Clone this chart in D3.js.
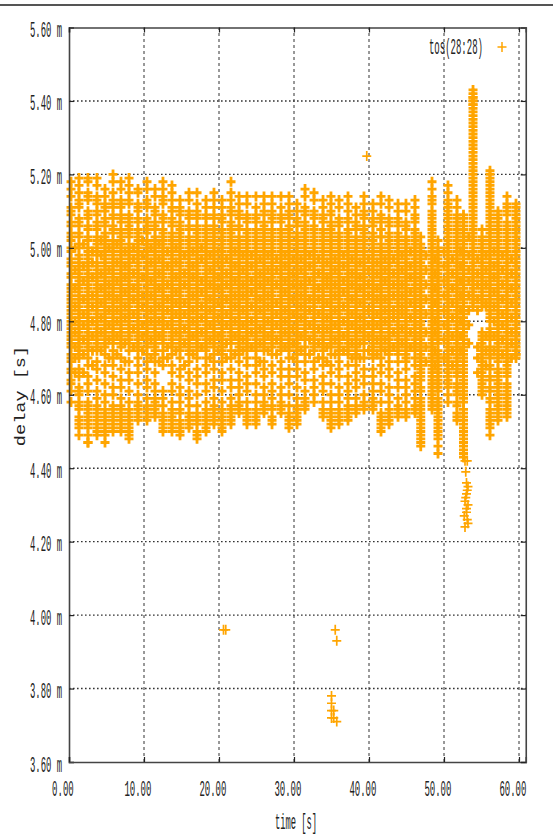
<!DOCTYPE html>
<html>
<head>
<meta charset="utf-8">
<script src="https://cdn.jsdelivr.net/npm/d3@7"></script>
<style>
  body { margin: 0; background: #fff; }
  text { font-family: "Liberation Mono", "DejaVu Sans Mono", monospace; fill: #222; }
</style>
</head>
<body>
<script>
const m = { width: 553, height: 835, left: 69, right: 525.75, top: 27.5, bottom: 762 }

const xTicks = [0, 10, 20, 30, 40, 50, 60]
const yTicks = [3.6, 3.8, 4.0, 4.2, 4.4, 4.6, 4.8, 5.0, 5.2, 5.4, 5.6]

// one stack of samples per burst, delays in 0.01 ms
const columnTimes = [0.27,1.33,2.53,3.73,4.8,5.87,6.93,8.0,9.2,10.4,11.47,12.53,13.73,14.8,16,17.07,18.27,19.33,20.4,21.6,22.67,23.73,24.93,26,27.07,28.27,29.33,30.4,31.47,32.67,33.87,34.93,36,37.2,38.27,39.33,40.53,41.6,42.67,43.87,44.93,46.13,46.9,48.4,49.2,50.53,51.73,52.6,53.87,55.07,56.13,57.2,58.4,59.6]
const columnDelays = [
  [518,516,514,511,509,507,504,502,499,497,495,493,490,488,486,485,483,481,479,478,476,474,471,469,466,463,461,458],
  [519,517,515,513,511,508,506,503,501,498,496,494,492,491,489,487,485,483,482,480,478,476,474,472,470,467,465,462,460,458,456,454,452,449],
  [519,518,515,513,510,508,505,503,500,498,497,495,493,491,490,488,486,484,481,480,477,475,473,470,468,465,463,461,458,456,455,453,451,447,447],
  [519,517,514,512,510,507,505,502,500,499,496,494,492,490,488,487,485,483,481,479,477,474,472,469,467,464,461,459,457,455,453,451,449],
  [516,514,512,510,508,506,503,501,499,497,495,493,492,490,488,486,484,482,480,478,476,473,471,468,466,463,460,458,456,454,452,450,447],
  [520,518,515,513,511,509,506,504,501,499,497,494,493,491,489,487,485,484,482,479,478,475,472,470,468,465,462,460,457,456,454,452,450],
  [518,516,513,511,509,507,504,502,500,498,496,495,493,491,489,487,486,484,481,479,477,475,473,470,467,464,462,459,457,455,453,451,450],
  [519,517,515,512,509,507,505,503,500,497,495,494,492,490,488,486,485,483,481,480,477,474,472,469,466,464,461,458,456,454,452,450,448],
  [516,515,512,510,508,505,503,501,499,497,496,494,492,491,489,487,485,483,481,479,477,475,472,470,468,466,463,460,458,457,455,453],
  [518,516,513,511,508,506,504,501,499,498,495,493,491,489,488,486,484,482,480,479,476,474,471,469,467,464,462,459,457,455,453],
  [516,514,511,509,507,505,502,500,498,497,495,493,491,490,488,486,484,482,481,478,476,473,471,469,466,463,461,459,458,456,454],
  [518,516,514,512,509,507,504,502,500,498,496,494,492,490,488,487,485,483,482,480,477,475,472,470,468,461,459,457,455,453,452,450],
  [517,515,513,510,508,506,503,501,499,497,495,494,492,490,489,487,485,483,480,478,476,473,471,468,466,463,461,458,456,454,452,450],
  [513,511,509,507,505,503,501,499,497,496,494,492,490,488,486,485,483,481,479,477,475,472,470,467,465,462,460,458,456,453,451,449],
  [515,513,510,508,506,503,501,499,498,495,493,491,489,488,486,484,482,480,478,476,474,472,469,466,464,461,459,457,455,453,451],
  [515,512,510,508,506,504,502,499,497,495,494,492,490,488,487,485,483,481,479,477,474,472,470,467,465,463,460,457,455,453,450,448],
  [513,511,509,506,504,502,500,498,496,494,492,491,489,487,485,483,482,480,478,475,473,470,468,466,463,461,458,456,454,452,450],
  [515,513,511,508,506,504,501,499,497,495,493,491,490,488,486,484,482,481,479,477,474,471,469,467,464,462,459,457,456,454,452],
  [513,511,509,507,505,503,500,498,496,494,493,491,489,487,485,484,482,480,478,476,473,471,469,466,464,461,458,456,454,452,450],
  [518,515,513,511,509,506,504,502,500,497,495,494,492,490,488,486,485,483,480,478,476,474,472,470,467,464,462,459,457,455,454,452],
  [514,512,510,508,506,503,501,499,497,495,493,491,489,488,486,484,482,480,478,476,474,471,469,466,464,462,460,458,457,455],
  [514,512,509,507,505,503,501,498,496,495,493,491,489,487,486,484,482,480,477,475,473,470,468,465,463,461,458,456,454,452],
  [514,511,509,507,505,502,500,498,496,494,492,490,489,487,485,483,481,479,477,475,472,470,468,466,463,460,458,456,454,452],
  [514,512,510,507,505,503,501,499,497,495,493,492,490,488,486,484,483,481,478,476,474,472,469,467,465,462,460,458,457,455],
  [514,512,510,508,505,503,501,498,497,494,492,491,489,487,485,483,481,479,477,475,473,471,468,466,463,461,459,457,454,452],
  [514,511,509,507,504,502,500,498,495,493,491,490,488,486,484,482,480,479,476,474,472,469,467,465,462,460,458,457,455],
  [514,512,510,508,506,504,501,499,497,495,493,492,490,488,486,485,483,481,478,476,474,472,470,467,465,463,460,457,454,452,451],
  [512,510,508,506,504,502,500,498,496,494,492,491,489,487,485,483,481,479,477,475,472,469,467,465,462,459,457,455,454,452],
  [516,514,511,509,506,504,502,499,497,495,493,491,489,488,486,484,482,480,478,476,473,471,469,466,464,461,459,457,456],
  [515,513,510,508,506,504,501,499,497,495,494,492,490,488,486,484,482,481,479,476,474,472,469,467,464,462,460,458],
  [513,511,509,507,505,502,500,498,496,494,492,491,489,487,485,483,481,479,477,474,472,470,468,465,463,461,458,456,454],
  [514,512,510,507,505,503,501,499,497,495,493,491,489,487,486,484,482,480,478,475,473,471,468,466,463,460,458,456,453,452,451],
  [513,511,508,506,504,502,500,498,496,494,492,490,488,486,485,483,481,479,476,474,472,469,467,465,462,460,458,456,454,452],
  [514,512,510,507,505,503,500,498,497,495,493,491,489,487,485,483,481,479,477,475,473,471,468,465,463,461,459,457,455,453],
  [511,509,507,505,503,501,499,497,495,493,491,489,488,486,484,482,480,478,475,473,471,468,466,464,462,459,457,455],
  [514,512,510,508,505,503,501,499,497,494,492,490,489,487,485,483,481,479,477,475,472,470,467,465,463,460,458,456],
  [512,510,508,506,504,502,500,498,496,494,492,491,489,487,485,483,481,479,476,474,472,470,467,465,463,461,459,457,456],
  [514,512,509,507,505,503,500,498,496,495,493,491,489,487,485,484,482,480,477,475,473,470,468,466,463,461,458,455,453,452,450],
  [513,511,508,506,504,502,500,497,495,494,492,490,488,486,484,482,480,478,476,474,472,469,467,465,462,460,458,456,454,452],
  [512,510,508,506,503,501,499,497,495,493,491,489,488,486,484,482,480,478,476,473,471,469,466,464,462,459,457,456,454],
  [512,510,507,505,503,501,499,497,495,493,491,490,488,486,484,482,480,479,476,473,471,469,467,464,462,460,458,456,454],
  [513,511,509,507,505,503,500,498,496,494,492,490,488,487,485,483,481,479,476,474,472,470,468,465,463,461,459,457,455],
  [503,501,499,497,495,493,491,489,488,486,484,482,480,478,476,474,471,469,467,465,462,459,457,456,455,454,453,452,451,450,449,448,447,446],
  [518,516,514,512,510,508,506,504,502,500,498,496,494,492,490,488,486,484,482,480,478,476,474,472,470,468,466,464,462,460,458,456],
  [502,500,499,497,495,493,491,489,487,485,483,481,479,477,475,472,470,467,465,462,459,456,455,454,453,452,451,450,449,448,446,444],
  [517,515,513,511,509,507,505,503,501,499,497,495,492,490,488,486,484,482,480,478,476,474,472,470,468,466,464,462,460,458],
  [513,511,509,507,505,503,500,498,496,494,492,490,488,486,484,482,480,478,476,474,472,470,468,466,463,461,458,455,453],
  [509,507,505,503,501,499,497,495,493,491,489,487,485,483,481,479,477,475,473,471,469,467,465,463,461,459,456,454,452,450,448,446,445,443],
  [543,542,541,540,539,538,536,534,532,530,528,526,524,522,520,518,516,514,512,510,508,506,504,502,500,498,496,494,492,490,488,486,484],
  [505,502,500,498,496,494,492,490,488,486,484,476,474,472,470,468,466,464,462,460],
  [521,519,517,515,513,511,509,507,505,503,501,499,497,495,493,491,489,487,485,483,481,478,476,473,471,468,465,462,459,456,454,452,449],
  [510,508,506,504,502,500,498,496,494,492,490,488,486,484,482,480,478,476,474,472,470,467,465,463,461,459,457,455,453],
  [514,512,510,507,505,503,500,498,496,494,492,490,488,486,484,482,480,478,476,474,472,470,468,466,463,461,459,457,455,454],
  [512,510,508,506,504,502,500,498,496,494,492,490,488,486,484,482,480,478,476,474,472,471,470]
]

// more samples in the same stacks, same order as columnTimes
const denseDelays = [
  [510,506,503,500,496,492,489,487,484,482,480,477,475,473,470,467,464],
  [512,507,504,500,497,495,493,490,488,486,484,481,479,477,475,473,471,461,457,453,451],
  [514,509,506,502,499,496,494,492,489,487,485,483,482,479,478,476,474,472,457,454,452,449],
  [513,509,506,503,501,498,495,493,491,489,486,484,482,480,478,476,475,473,456,454,452,450],
  [511,507,504,502,500,498,496,494,491,489,487,485,483,481,479,477,475,474,455,453,451,449],
  [512,508,505,502,500,498,496,495,492,490,488,486,483,481,480,477,476,474,455,453,451],
  [512,508,505,503,501,499,497,494,492,490,488,485,483,482,480,478,476,474,456,454,452],
  [513,508,506,504,501,499,498,496,493,491,489,487,484,482,479,478,476,475,455,453,451,449],
  [511,507,504,502,500,498,495,493,490,488,486,484,482,480,478,476,474,473,456,454],
  [512,507,505,502,500,497,496,494,492,490,487,485,483,481,478,477,475,473,456,454],
  [510,506,503,501,499,496,494,492,489,487,485,483,480,479,477,475,474,472,457,455],
  [513,508,505,503,501,499,497,495,493,491,489,486,484,481,479,478,476,474,454,451],
  [511,507,504,502,500,498,496,493,491,488,486,484,482,481,479,477,475,474,455,453,451],
  [510,506,504,502,500,498,495,493,491,489,487,484,482,480,478,476,474,473,455,452,450],
  [509,505,502,500,497,496,494,492,490,487,485,483,481,479,477,475,473,471,454,452],
  [509,505,503,501,500,498,496,493,491,489,486,484,482,480,478,476,475,473,454,452,449],
  [508,505,503,501,499,497,495,493,490,488,486,484,481,479,477,476,474,472,455,453,451],
  [509,505,503,502,500,498,496,494,492,489,487,485,483,480,478,476,475,473,455,453],
  [508,504,502,501,499,497,495,492,490,488,486,483,481,479,477,475,474,472,455,453,451],
  [510,507,505,503,501,499,498,496,493,491,489,487,484,482,481,479,477,475,456,453],
  [509,505,502,500,498,496,494,492,490,487,485,483,481,479,477,475,473,472,456],
  [508,504,502,500,499,497,494,492,490,488,485,483,481,479,478,476,474,472,455,453],
  [508,504,503,501,499,497,495,493,491,488,486,484,482,480,478,476,474,473,455,453],
  [509,506,504,502,500,498,496,494,491,489,487,485,482,480,479,477,475,473,456],
  [509,507,504,502,500,499,496,495,493,490,488,486,484,482,480,478,476,474,456,453],
  [508,505,503,501,499,497,496,494,492,489,487,485,483,481,478,477,475,473,456],
  [509,505,503,502,500,498,496,494,491,489,487,484,482,480,479,477,475,473,455,453],
  [507,503,501,499,497,495,493,490,488,486,484,482,480,478,476,474,473,471,456,453],
  [510,507,505,503,501,500,498,496,494,492,490,487,485,483,481,479,477,475,458],
  [509,505,503,502,500,498,496,493,491,489,487,485,483,480,478,477,475,473],
  [508,504,503,501,499,497,495,493,490,488,486,484,482,480,478,476,475,473,455],
  [509,506,504,502,500,498,496,494,492,490,488,485,483,481,479,477,476,474,455,454],
  [507,503,501,499,497,495,493,491,489,487,484,482,480,478,477,475,473,471,455,453],
  [508,504,502,501,499,496,494,492,490,488,486,484,482,480,478,476,474,472,456,454],
  [506,502,500,498,496,494,492,490,487,485,483,481,479,477,476,474,472,470,456],
  [509,506,504,502,500,498,496,495,493,491,488,486,484,482,480,478,476,474,457],
  [507,503,501,499,497,495,493,490,488,486,484,482,480,478,477,475,473,471,458],
  [508,505,503,501,499,497,494,492,490,488,486,483,481,479,478,476,474,472,454,451],
  [507,503,501,499,498,496,493,491,489,487,485,483,481,479,477,475,473,471,455,453],
  [507,504,502,500,498,496,494,492,490,487,485,483,481,479,477,475,474,472,455],
  [506,502,500,498,496,494,492,489,487,485,483,481,478,477,475,474,472,470,455],
  [508,504,502,501,499,497,495,493,491,489,486,484,482,480,478,477,475,473,456],
  [500,498,496,494,492,490,487,485,483,481,479,477,475,473,472,470,468,466,464,461,458],
  [513,509,507,505,503,501,499,497,495,493,491,489,487,485,483,481,479,477,475,473,471,469,467,465,463,461,459,457],
  [498,496,494,492,490,488,486,484,482,480,478,476,474,471,469,468,466,464,463,461,458,457],
  [512,510,508,506,504,502,500,498,496,494,493,491,489,487,485,483,481,479,477,475,473,471,469,467,465,463],
  [508,506,504,502,501,499,497,495,493,491,489,487,485,483,481,479,477,475,473,471,469,467,465,462,460,457,454],
  [508,506,504,502,500,498,496,494,492,490,488,486,484,482,480,478,476,474,472,470,468,466,464,462,460,458,455,453,451,449,447,444],
  [541,540,539,537,535,533,531,529,527,525,523,521,519,517,515,513,511,509,507,505,503,501,499,497,495,493,491,489,487,485],
  [503,501,499,497,495,493,491,489,487,485,477,475,473,471,469,467,465,463,461],
  [520,518,516,514,512,510,508,506,504,502,500,498,496,494,492,490,488,486,484,482,480,477,475,472,470,467,464,461,458,455,453,451],
  [509,507,505,503,501,499,497,495,493,491,489,487,485,483,481,479,477,475,473,471,469,466,464,462,460,458,456,454],
  [511,509,506,504,502,501,499,497,495,493,491,489,487,485,483,481,479,477,475,473,471,469,467,465,462,460,458,456],
  [511,509,507,505,503,501,499,497,495,493,491,489,487,485,483,481,479,477,475,473,471]
]

// samples lying between the stacks, they fill the dense core of the cloud
const fillTimes = [0.8,1.93,3.13,4.27,5.33,6.4,7.47,8.6,9.8,10.93,12,13.13,14.27,15.4,16.53,17.67,18.8,19.87,21,22.13,23.2,24.33,25.47,26.53,27.67,28.8,29.87,30.93,32.07,33.27,34.4,35.47,36.6,37.73,38.8,39.93,41.07,42.13,43.27,44.4,45.53,47.6,48.8,50,51.13,52.2,53.3,54.47,55.6,56.67,57.8,59]
const fillDelays = [
  [500,494,489,484,480,477,473,470,466],[501,495,491,486,482,479,475,471,466],[499,496,492,487,484,480,476,472,468],
  [502,498,493,489,485,481,477,472],[500,494,490,487,483,479,475,470],[501,496,491,486,483,480,476,471],
  [499,495,492,488,484,481,474,469],[500,497,493,489,486,482,478,473],[502,498,492,487,484,479,476,472],
  [500,496,491,487,483,480,475,470],[501,497,493,489,484,480,476,469],[499,495,490,486,483,479,473,470],
  [500,496,492,488,485,482,477,472],[498,493,490,485,482,478,474,468],[499,495,492,487,483,480,476,471],
  [500,497,491,488,484,481,477,473],[498,494,490,486,483,479,475,470],[499,496,492,489,485,481,476,472],
  [497,493,490,486,482,479,474,470],[499,495,491,487,484,480,476,471],[498,494,490,487,483,479,475,472],
  [498,495,491,488,484,480,477,473],[497,493,490,486,483,478,474,469],[498,494,491,487,484,480,476,472],
  [497,494,490,485,482,479,475,471],[498,495,491,488,483,480,477,473],[497,493,490,486,482,478,474,470],
  [497,494,490,487,484,481,476,472],[498,495,491,486,483,479,475,471],[497,493,489,486,482,478,474,470],
  [496,492,490,485,481,478,473,469],[497,494,490,487,483,479,475,471],[498,495,491,488,484,480,476,472],
  [497,493,490,486,482,479,474,470],[496,492,489,485,481,478,474,470],[497,494,490,487,483,479,476,472],
  [496,493,489,486,482,479,475,471],[497,494,491,486,483,480,475,472],[497,493,490,487,483,481,477,473],
  [498,494,490,487,484,482,478,474],[499,495,492,488,485,481,477,473],[498,494,490,486,482,477,473,469],
  [497,493,489,485,480,477,472,468],[499,495,491,487,483,479,475,470],[497,493,489,485,481,476,472,468],
  [499,495,491,487,483,480,476,472],[503,498,494,491,487,483,479,474],[497,493,490,486,483,473,470,466],
  [498,494,490,485,484,476,472,468],[499,495,492,488,484,480,476,472],[498,494,490,486,482,479,475,471],
  [497,493,489,485,481,477,474,470]
]

// the few samples away from the cloud: seconds, 0.01 ms
const strayTimes = [20.6,20.9,35.5,35.7,35.0,35.0,35.0,35.3,35.0,35.3,35.7,39.7,52.9,53.0,53.2,52.8,52.6,53.1,52.9,53.0,53.1,52.8,53.2,53.0,52.7,53.1,52.8,53.0,53.2]
const strayDelays = [396,396,396,393,378,376,374,374,372,372,371,525,432,429,425,442,443,442,439,436,434,431,430,428,427,426,424,433,435]

const legendLabel = 'tos(28:28)'
const crossPath = 'M-4.5 0H4.5M0-5V5'
const markColor = '#ffa500'

const svg = d3.select('body').append('svg')
    .attr('width', m.width)
    .attr('height', m.height)
    .style('display', 'block')

const x = d3.scaleLinear().domain([0, 60.9]).range([m.left, m.right])
const y = d3.scaleLinear().domain([3.6, 5.6]).range([m.bottom, m.top])

svg.append('rect').attr('x', 0).attr('y', 4).attr('width', m.width).attr('height', 2).attr('fill', '#555')

// grid first, the samples go on top of it
const grid = svg.append('g').attr('stroke', '#333').attr('stroke-width', 1)
grid.selectAll('.gx').data(xTicks.slice(1)).enter().append('line')
    .attr('x1', d => x(d)).attr('x2', d => x(d))
    .attr('y1', m.bottom).attr('y2', m.top)
    .attr('stroke-dasharray', '3 3')
grid.selectAll('.gy').data(yTicks.slice(1, -1)).enter().append('line')
    .attr('x1', m.left).attr('x2', m.right)
    .attr('y1', d => y(d)).attr('y2', d => y(d))
    .attr('stroke-width', 1.4)
    .attr('stroke-dasharray', '1.6 2.4')

const points = []
columnTimes.forEach((t, i) => columnDelays[i].forEach(d => points.push([t, d])))
columnTimes.forEach((t, i) => (denseDelays[i] || []).forEach(d => points.push([t, d])))
fillTimes.forEach((t, i) => fillDelays[i].forEach(d => points.push([t, d])))

const strays = strayTimes.map((t, i) => [t, strayDelays[i]])

function drawMarks(data, width) {
    svg.append('g').selectAll('path')
        .data(data)
        .enter()
        .append('path')
            .attr('d', crossPath)
            .attr('transform', d => `translate(${x(d[0])},${y(d[1] / 100)})`)
            .attr('fill', 'none')
            .attr('stroke', markColor)
            .attr('stroke-width', width)
}
drawMarks(points, 2.8)
drawMarks(strays, 1.7)

// frame and the short inside ticks
const left = svg.append('g').attr('transform', `translate(${m.left},0)`)
    .call(d3.axisLeft(y).tickValues(yTicks).tickSize(-5).tickFormat(d => d3.format('.2f')(d) + ' m'))
const bottom = svg.append('g').attr('transform', `translate(0,${m.bottom})`)
    .call(d3.axisBottom(x).tickValues(xTicks).tickSize(-5).tickFormat(d3.format('.2f')))
svg.append('g').attr('transform', `translate(${m.right},0)`)
    .call(d3.axisRight(y).tickValues(yTicks).tickSize(-5).tickFormat(''))
svg.append('g').attr('transform', `translate(0,${m.top})`)
    .call(d3.axisTop(x).tickValues(xTicks).tickSize(-5).tickFormat(''))

svg.selectAll('.domain').attr('stroke', '#444').attr('stroke-width', 1.6)
svg.selectAll('.tick line').attr('stroke', '#222').attr('stroke-width', 1.2)

// the picture is a stretched screenshot, so the text is tall and narrow
left.selectAll('text')
    .attr('x', 0).attr('y', 0).attr('dy', 0)
    .attr('font-size', 11)
    .attr('transform', 'translate(-7,9) scale(0.81,2)')
    .style('font-family', '"Liberation Mono", monospace').style('fill', '#222')
bottom.selectAll('text')
    .attr('x', 0).attr('y', 0).attr('dy', 0)
    .attr('font-size', 11)
    .attr('transform', 'translate(-6.6,33.5) scale(0.82,2)')
    .style('font-family', '"Liberation Mono", monospace').style('fill', '#222')

svg.append('text')
    .attr('transform', 'translate(296,829) scale(0.8,2)')
    .attr('text-anchor', 'middle')
    .attr('font-size', 11)
    .text('time [s]')

svg.append('text')
    .attr('transform', 'translate(25,396) rotate(-90) scale(1.69,1.4)')
    .attr('text-anchor', 'middle')
    .attr('font-size', 11)
    .text('delay [s]')

// legend
svg.append('text')
    .attr('transform', 'translate(483,54) scale(0.82,2)')
    .attr('text-anchor', 'end')
    .attr('font-size', 11)
    .text(legendLabel)
svg.append('path')
    .attr('d', crossPath)
    .attr('transform', 'translate(502,47)')
    .attr('fill', 'none')
    .attr('stroke', markColor)
    .attr('stroke-width', 1.5)
</script>
</body>
</html>
